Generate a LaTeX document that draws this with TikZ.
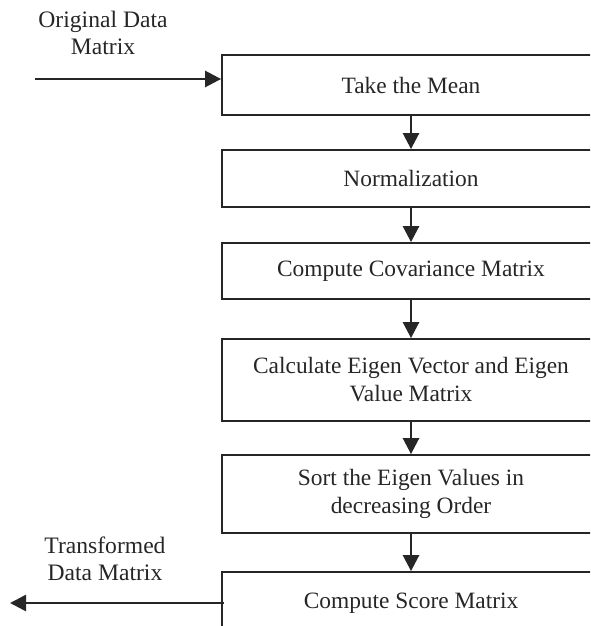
\documentclass[tikz,border=0pt]{standalone}
\usepackage{fontspec}
\setmainfont{Liberation Serif}
\usetikzlibrary{arrows.meta}
\begin{document}
\begin{tikzpicture}[x=1pt,y=-1pt,
  stepbox/.style={draw=black!85,line width=1.8pt,minimum width=378pt,inner sep=0pt,align=center,font=\fontsize{23.4}{28}\selectfont,text=black!85},
  lbl/.style={align=center,font=\fontsize{23.6}{27}\selectfont,text=black!85,inner sep=0pt},
  flow/.style={line width=2.6pt,draw=black!85,-{Triangle[length=16pt,width=16pt]}}]
\useasboundingbox (0,0) rectangle (590,626);
\clip (0,0) rectangle (590,626);
\node[stepbox,minimum height=60pt] (b1) at (411,85) {Take the Mean};
\node[stepbox,minimum height=57pt] (b2) at (411,178.5) {Normalization};
\node[stepbox,minimum height=56pt] (b3) at (411,271) {Compute Covariance Matrix};
\node[stepbox,minimum height=82pt] (b4) at (411,380) {Calculate Eigen Vector and Eigen\\Value Matrix};
\node[stepbox,minimum height=78pt] (b5) at (411,494) {Sort the Eigen Values in\\decreasing Order};
\node[stepbox,minimum height=62pt] (b6) at (411,603) {Compute Score Matrix};
\node[lbl] (inl) at (103,33) {Original Data\\Matrix};
\node[lbl] (outl) at (105,559) {Transformed\\Data Matrix};
\coordinate (in) at (35,79);
\coordinate (out) at (10,603);
\draw[flow] (in) -- (b1.west |- in);
\draw[flow] (b1) -- (b2);
\draw[flow] (b2) -- (b3);
\draw[flow] (b3) -- (b4);
\draw[flow] (b4) -- (b5);
\draw[flow] (b5) -- (b6);
\draw[flow] ([xshift=3pt]b6.west) -- (out);
\end{tikzpicture}
\end{document}
